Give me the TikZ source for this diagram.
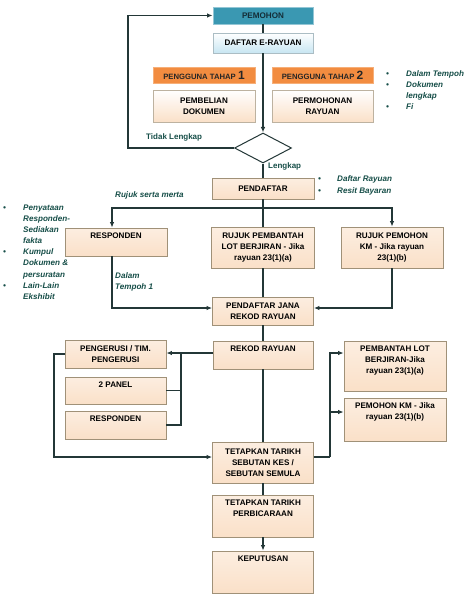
\documentclass[tikz,border=0pt]{standalone}
\usepackage{fontspec}
\newfontfamily\arialf{Liberation Sans}
\usetikzlibrary{arrows.meta,shapes.geometric,shadows}
\definecolor{peach}{RGB}{250,224,200}
\definecolor{peachdk}{RGB}{160,145,120}
\definecolor{tealbox}{RGB}{58,152,178}
\definecolor{orng}{RGB}{242,140,64}
\definecolor{lblue}{RGB}{200,230,242}
\definecolor{linec}{RGB}{35,55,55}
\definecolor{lblc}{RGB}{22,78,72}
\newcommand\bxf{\arialf\bfseries\fontsize{8.1}{11}\selectfont}
\newcommand\itf{\arialf\bfseries\itshape\fontsize{8.1}{11.1}\selectfont}
\begin{document}
\begin{tikzpicture}[x=1pt,y=-1pt,
  shd/.style={drop shadow={shadow xshift=0.9pt,shadow yshift=-0.9pt,fill=black!30}},
  box/.style={shd, draw=peachdk, line width=0.8pt, top color=peach!55!white, bottom color=peach, inner sep=1pt, align=center, font=\bxf, text=black},
  pembox/.style={shd, draw=tealbox!55!white, line width=0.8pt, fill=tealbox, font=\bxf, text={rgb,255:red,20;green,45;blue,55}},
  dbox/.style={shd, draw=lblue!60!gray, line width=0.8pt, top color=white, bottom color=lblue, font=\bxf, text=black},
  obox/.style={shd, draw=orng!70!white, line width=0.8pt, fill=orng, font=\arialf\bfseries\fontsize{7.7}{11}\selectfont, text=black!85},
  lbox/.style={shd, draw=peachdk!70!white, line width=0.8pt, top color=white, bottom color=peach, font=\bxf, align=center, text=black},
  txt/.style={font=\bxf, align=center, inner sep=0pt, text=black},
  dia/.style={diamond, draw=linec, line width=1pt, minimum width=57pt, minimum height=30pt, inner sep=0pt, fill=white},
  ln/.style={draw=linec, line width=1.3pt},
  arr/.style={ln, -{Latex[length=5.5pt,width=4.5pt]}},
  lbl/.style={font=\arialf\bfseries\fontsize{8}{11}\selectfont, text=lblc, inner sep=0pt},
  ilbl/.style={font=\itf, text=lblc, inner sep=0pt, align=left},
  lst/.style={font=\itf, text=lblc, inner sep=0pt}]
\useasboundingbox (0,0) rectangle (474,604);
\fill[white] (0,0) rectangle (474,604);

% top part
\node[pembox, minimum width=100pt, minimum height=17pt] (pemohon) at (263,15.5) {PEMOHON};
\node[dbox, minimum width=100pt, minimum height=20pt] (daftar) at (263,43) {DAFTAR E-RAYUAN};
\node[obox, minimum width=102pt, minimum height=16pt] (peng1) at (204,75) {PENGGUNA TAHAP {\fontsize{12}{11}\selectfont 1}};
\node[obox, minimum width=101pt, minimum height=16pt] (peng2) at (322.5,75) {PENGGUNA TAHAP {\fontsize{12}{11}\selectfont 2}};
\node[lbox, minimum width=102pt, minimum height=32pt] (pemb) at (204,106) {PEMBELIAN\\DOKUMEN};
\node[lbox, minimum width=101pt, minimum height=32pt] (perm) at (322.5,106) {PERMOHONAN\\RAYUAN};
\node[lst, anchor=north west] (lsttop) at (386,68.5) {\begin{tabular}{@{}p{20pt}@{}l@{}}\textbullet & Dalam Tempoh\\ \textbullet & Dokumen\\ & lengkap\\ \textbullet & Fi\end{tabular}};

\node[dia] (dia) at (263,148) {};
\node[lbl, anchor=west] (tidak) at (146,137) {Tidak Lengkap};
\node[lbl, anchor=west] (lengkap) at (268,166) {Lengkap};

\node[box, minimum width=102pt, minimum height=21pt] (pendaftar) at (263,188.5) {PENDAFTAR};
\node[lst, anchor=north west] (lstpend) at (318,173.5) {\begin{tabular}{@{}p{19pt}@{}l@{}}\textbullet & Daftar Rayuan\\[0.8pt] \textbullet & Resit Bayaran\end{tabular}};
\node[ilbl, anchor=west] (rujuk) at (115,195) {Rujuk serta merta};

% second row
\node[box, minimum width=102pt, minimum height=28pt] (resp1) at (116,242) {};
\node[txt, anchor=north] (resp1t) at ([yshift=-5pt]resp1.north) {RESPONDEN};
\node[box, minimum width=103pt, minimum height=41pt] (rujuk1) at (263,247.5) {RUJUK PEMBANTAH\\LOT BERJIRAN - Jika\\rayuan 23(1)(a)};
\node[box, minimum width=102pt, minimum height=41pt] (rujuk2) at (392,247.5) {RUJUK PEMOHON\\KM - Jika rayuan\\23(1)(b)};
\node[lst, anchor=north west] (lstleft) at (3,202.5) {\begin{tabular}{@{}p{20pt}@{}l@{}}\textbullet & Penyataan\\ & Responden-\\ & Sediakan\\ & fakta\\ \textbullet & Kumpul\\ & Dokumen \&\\ & persuratan\\ \textbullet & Lain-Lain\\ & Ekshibit\end{tabular}};
\node[ilbl, anchor=north west] (dalam) at (115,272) {Dalam\\Tempoh 1};

\node[box, minimum width=101pt, minimum height=28pt] (jana) at (263,311) {PENDAFTAR JANA\\REKOD RAYUAN};

% third part
\node[box, minimum width=100pt, minimum height=28pt] (rekod) at (263,355) {};
\node[txt, anchor=north] (rekodt) at ([yshift=-5pt]rekod.north) {REKOD RAYUAN};
\node[box, minimum width=101pt, minimum height=28pt] (peng) at (115.5,354) {PENGERUSI / TIM.\\PENGERUSI};
\node[box, minimum width=101pt, minimum height=27pt] (panel) at (115.5,390.5) {};
\node[txt, anchor=north] (panelt) at ([yshift=-5pt]panel.north) {2 PANEL};
\node[box, minimum width=101pt, minimum height=28pt] (resp2) at (115.5,425) {};
\node[txt, anchor=north] (resp2t) at ([yshift=-5pt]resp2.north) {RESPONDEN};
\node[box, minimum width=102pt, minimum height=50pt] (plot) at (395,366) {};
\node[txt, anchor=north] (plott) at ([yshift=-5pt]plot.north) {PEMBANTAH LOT\\BERJIRAN-Jika\\rayuan 23(1)(a)};
\node[box, minimum width=102pt, minimum height=43pt] (pkm) at (395,419.5) {};
\node[txt, anchor=north] (pkmt) at ([yshift=-5pt]pkm.north) {PEMOHON KM - Jika\\rayuan 23(1)(b)};

\node[box, minimum width=101pt, minimum height=41pt] (tet) at (263,462.5) {TETAPKAN TARIKH\\SEBUTAN KES /\\SEBUTAN SEMULA};
\node[box, minimum width=101pt, minimum height=42pt] (perb) at (263,516) {};
\node[txt, anchor=north] (perbt) at ([yshift=-5pt]perb.north) {TETAPKAN TARIKH\\PERBICARAAN};
\node[box, minimum width=101pt, minimum height=42pt] (kep) at (263,572) {};
\node[txt, anchor=north] (kept) at ([yshift=-5pt]kep.north) {KEPUTUSAN};

% connectors
\draw[ln] (pemohon.south) -- (daftar.north);
\draw[arr] (daftar.south) -- (dia.north);
\coordinate (loop) at (128,148);
\draw[arr] (dia.west) -- (loop) |- (pemohon.west);
\draw[ln] (dia.south) -- (pendaftar.north);
\draw[ln] (pendaftar.south) -- (rujuk1.north);
\coordinate (split) at (263,208);
\draw[arr] (split) -| ([xshift=-4pt]resp1.north);
\draw[arr] (split) -| (rujuk2.north);
\draw[arr] ([xshift=-4pt]resp1.south) |- ([yshift=3pt]jana.west);
\draw[arr] (rujuk2.south) |- ([yshift=3pt]jana.east);
\draw[ln] (rujuk1.south) -- (jana.north);
\draw[ln] (jana.south) -- (rekod.north);
\draw[arr] ([yshift=2pt]rekod.west) -- ([yshift=2pt]rekod.west -| peng.east);
\coordinate (brk) at (181,353);
\draw[ln] (panel.east) -| (brk);
\draw[ln] (resp2.east) -| (brk);
\coordinate (lft) at (54,354);
\draw[arr] (peng.west) -- (lft) |- ([yshift=5.5pt]tet.west);
\draw[ln] (rekod.south) -- (tet.north);
\coordinate (rgt) at (330,457);
\draw[ln] ([yshift=5.5pt]tet.east) -- (rgt);
\draw[arr] (rgt) |- ([yshift=13pt]plot.west);
\draw[arr] (rgt) |- ([yshift=7.5pt]pkm.west);
\draw[ln] (tet.south) -- (perb.north);
\draw[arr] (perb.south) -- (kep.north);
\end{tikzpicture}
\end{document}
